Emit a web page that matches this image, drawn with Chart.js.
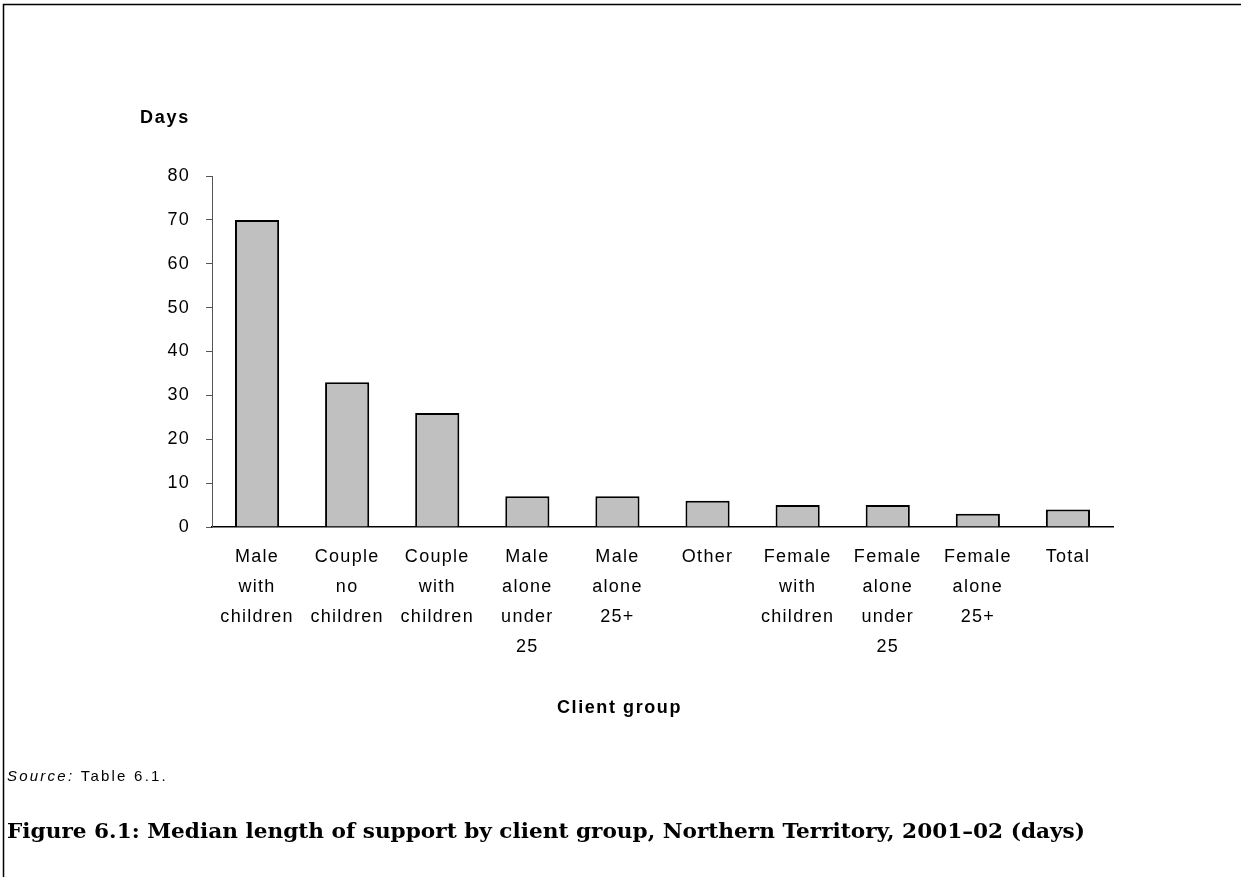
<!DOCTYPE html>
<html>
<head>
<meta charset="utf-8">
<script src="https://cdn.jsdelivr.net/npm/chart.js@4.4.0/dist/chart.umd.min.js"></script>
<style>
  html, body { margin: 0; padding: 0; background: #fff; }
  #wrap { position: relative; width: 1241px; height: 877px; }
</style>
</head>
<body>
<div id="wrap"><canvas id="lengthChart" width="1241" height="877"></canvas></div>
<script>
// client groups (multi-line labels as in the figure)
const categories = [
    ['Male', 'with', 'children'],
    ['Couple', 'no', 'children'],
    ['Couple', 'with', 'children'],
    ['Male', 'alone', 'under', '25'],
    ['Male', 'alone', '25+'],
    ['Other'],
    ['Female', 'with', 'children'],
    ['Female', 'alone', 'under', '25'],
    ['Female', 'alone', '25+'],
    ['Total']
];
// median days of support
const medianDays = [70, 33, 26, 7, 7, 6, 5, 5, 3, 4];
const yTicks = [0, 10, 20, 30, 40, 50, 60, 70, 80];

const yTitle = 'Days';
const xTitle = 'Client group';
const sourceLabel = 'Source:';
const sourceText = ' Table 6.1.';
const caption = 'Figure 6.1: Median length of support by client group, Northern Territory, 2001\u201302 (days)';

const sans = '"Liberation Sans", Arial, sans-serif';
const serif = '"DejaVu Serif", "Liberation Serif", serif';

// stretch text to a given width via letter spacing
function fitSpacing(ctx, text, width) {
    ctx.letterSpacing = '0px';
    const w = ctx.measureText(text).width;
    return Math.max(0, (width - w) / text.length);
}

// extra text + page frame
const decorations = {
    id: 'decorations',
    beforeDraw(chart) {
        chart.ctx.letterSpacing = '1.3px';
    },
    afterDraw(chart) {
        const ctx = chart.ctx;
        ctx.save();
        ctx.letterSpacing = '0px';
        // frame (top and left only)
        ctx.strokeStyle = '#000';
        ctx.lineWidth = 1.5;
        ctx.beginPath();
        ctx.moveTo(3.5, 877);
        ctx.lineTo(3.5, 4.5);
        ctx.lineTo(1241, 4.5);
        ctx.stroke();

        ctx.fillStyle = '#000';
        ctx.textBaseline = 'middle';
        ctx.textAlign = 'left';
        ctx.font = 'bold 18px ' + sans;
        let sp = fitSpacing(ctx, yTitle, 50);
        ctx.letterSpacing = sp + 'px';
        ctx.fillText(yTitle, 140, 118);
        sp = fitSpacing(ctx, xTitle, 125);
        ctx.letterSpacing = sp + 'px';
        ctx.fillText(xTitle, 557, 708);

        // source line
        ctx.font = '15px ' + sans;
        sp = fitSpacing(ctx, sourceLabel + sourceText, 161);
        ctx.letterSpacing = sp + 'px';
        ctx.font = 'italic 15px ' + sans;
        ctx.fillText(sourceLabel, 7, 777);
        const w = ctx.measureText(sourceLabel).width;
        ctx.font = '15px ' + sans;
        ctx.fillText(sourceText, 7 + w, 777);

        // caption: condensed horizontally to the figure's width
        ctx.letterSpacing = '0px';
        ctx.font = 'bold 21px ' + serif;
        const cw = ctx.measureText(caption).width;
        ctx.textBaseline = 'alphabetic';
        ctx.translate(7, 838);
        ctx.scale(1078 / cw, 1);
        ctx.fillText(caption, 0, 0);
        ctx.restore();
    }
};

const ctx = document.getElementById('lengthChart').getContext('2d');
const chart = new Chart(ctx, {
    type: 'bar',
    data: {
        labels: categories,
        datasets: [{
            label: 'Median days',
            data: medianDays,
            backgroundColor: '#c0c0c0',
            borderColor: '#000',
            borderWidth: 2,
            barPercentage: 0.49,
            categoryPercentage: 1.0
        }]
    },
    options: {
        responsive: false,
        animation: false,
        devicePixelRatio: 1,
        layout: { padding: { left: 0, top: 176, right: 128, bottom: 0 } },
        plugins: {
            legend: { display: false },
            tooltip: { enabled: false }
        },
        scales: {
            x: {
                grid: { display: false, drawTicks: false },
                border: { display: true, color: '#000', width: 1.5 },
                ticks: {
                    color: '#000',
                    font: { family: sans, size: 18, lineHeight: 1.667 },
                    padding: 15,
                    maxRotation: 0,
                    autoSkip: false
                },
                afterFit(scale) { scale.height = 877 - 527; }
            },
            y: {
                min: 0,
                max: 80,
                afterBuildTicks(scale) { scale.ticks = yTicks.map(v => ({ value: v })); },
                grid: { drawOnChartArea: false, drawTicks: true, tickLength: 6, color: '#000', tickColor: '#555' },
                border: { display: true, color: '#555', width: 1 },
                ticks: {
                    color: '#000',
                    font: { family: sans, size: 18 },
                    padding: 16
                },
                afterFit(scale) { scale.width = 212; }
            }
        }
    },
    plugins: [decorations]
});
</script>
</body>
</html>
